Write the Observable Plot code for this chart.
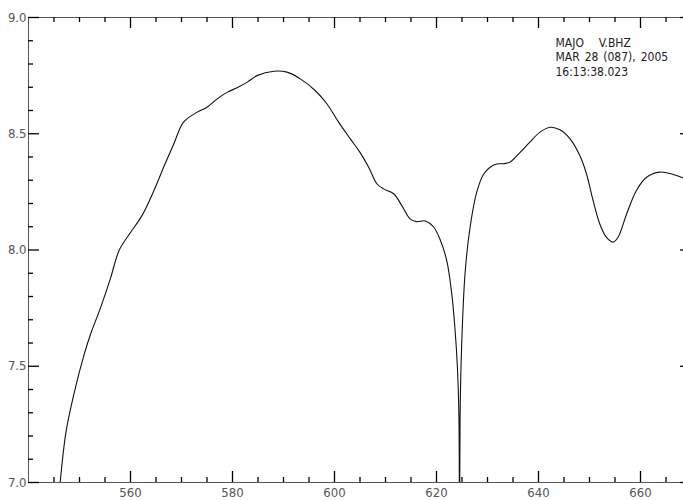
<!DOCTYPE html>
<html>
<head>
<meta charset="utf-8">
<script src="https://cdn.jsdelivr.net/npm/d3@7"></script>
<script src="https://cdn.jsdelivr.net/npm/@observablehq/plot@0.6"></script>
<style>
  html, body { margin: 0; padding: 0; background: #fff; }
  #chart { width: 683px; height: 500px; overflow: hidden; position: relative; background: #fff; }
  #chart svg { display: block; max-width: none !important; width: 691px !important; height: 500px !important;
    font-family: 'Liberation Sans Narrow', 'DejaVu Sans Condensed', 'Liberation Sans', sans-serif; font-size: 13px; }
  #chart svg g[aria-label$="tick label"] { fill: #555; }
  #chart svg g[aria-label="text"] text { word-spacing: 1.5px; }
</style>
</head>
<body>
<div id="chart"></div>
<script>
// ---- data ----
const periods = [545.6, 547.3, 548.9, 550.9, 552.2, 554.1, 556.1, 557.8, 560.0, 562.3,
  564.6, 566.5, 568.5, 570.4, 573.1, 575.0, 577.0, 579.0, 580.9, 582.9,
  584.8, 588.1, 590.7, 593.3, 596.2, 598.5, 600.8, 603.1, 605.0, 606.7,
  608.3, 609.6, 611.6, 613.2, 614.8, 616.1, 617.8, 619.4, 620.7, 622.0,
  623.0, 623.6, 624.1, 624.4, 624.5, 624.62, 624.9, 625.6, 626.6, 627.9,
  629.2, 630.5, 631.8, 633.1, 634.4, 636.4, 638.3, 640.3, 642.3, 644.2,
  646.2, 648.1, 649.4, 650.7, 652.0, 653.3, 654.6, 655.6, 657.3, 659.2,
  661.2, 663.8, 666.4, 668.4, 670.0];
const amplitudes = [6.85, 7.21, 7.38, 7.55, 7.64, 7.75, 7.88, 8.00, 8.075, 8.15,
  8.256, 8.356, 8.457, 8.55, 8.593, 8.614, 8.65, 8.679, 8.698, 8.722,
  8.75, 8.769, 8.765, 8.736, 8.686, 8.629, 8.55, 8.478, 8.42, 8.356,
  8.285, 8.263, 8.242, 8.191, 8.134, 8.122, 8.125, 8.100, 8.045, 7.955,
  7.81, 7.668, 7.496, 7.28, 6.5, 7.28, 7.568, 7.90, 8.10, 8.25,
  8.325, 8.356, 8.37, 8.371, 8.378, 8.42, 8.464, 8.507, 8.528, 8.517,
  8.478, 8.406, 8.328, 8.213, 8.113, 8.055, 8.034, 8.055, 8.156, 8.256,
  8.313, 8.335, 8.325, 8.31, 8.30];

const xMajorTicks = [560, 580, 600, 620, 640, 660];
const xMinorTicks = [545, 550, 555, 565, 570, 575, 585, 590, 595, 605, 610, 615,
  625, 630, 635, 645, 650, 655, 665];
const yMajorTicks = [7.0, 7.5, 8.0, 8.5, 9.0];
const yMinorTicks = [7.1, 7.2, 7.3, 7.4, 7.6, 7.7, 7.8, 7.9, 8.1, 8.2, 8.3, 8.4,
  8.6, 8.7, 8.8, 8.9];
const xDomain = [540, 670];
const yDomain = [7.0, 9.0];
const annotationLines = ["MAJO\u00a0\u00a0\u00a0V.BHZ", "MAR 28 (087), 2005", "16:13:38.023"];

const data = periods.map((p, i) => ({x: p, y: amplitudes[i]}));

// ---- layout ----
const W = 691, H = 500;
const mL = 28, mR = 0, mT = 17, mB = 18;
const plotW = W - mL - mR, plotH = H - mT - mB;
const majorLen = 11, minorLen = 5;
const axisColor = "#555";
const tickColor = "black";

const chart = Plot.plot({
  width: W,
  height: H,
  marginLeft: mL,
  marginRight: mR,
  marginTop: mT,
  marginBottom: mB,
  x: {domain: xDomain, ticks: xMajorTicks, tickSize: 0, tickPadding: 5, tickFormat: d => String(d), label: null},
  y: {domain: yDomain, ticks: yMajorTicks, tickSize: 0, tickPadding: 2, tickFormat: d => d.toFixed(1), label: null},
  marks: [
    Plot.frame({stroke: axisColor}),
    Plot.line(data, {x: "x", y: "y", curve: "catmull-rom", stroke: "#111", strokeWidth: 1.1, clip: true}),
    Plot.text([annotationLines.join("\n")], {
      frameAnchor: "top-left", dx: 527, dy: 19, text: d => d,
      textAnchor: "start", lineAnchor: "top", lineHeight: 1.2,
      fontSize: 12, fill: "#222"
    }),
    // bottom ticks
    Plot.ruleX(xMajorTicks, {x: d => d, stroke: tickColor, strokeWidth: 1.3, insetTop: plotH - majorLen}),
    Plot.ruleX(xMinorTicks, {x: d => d, stroke: tickColor, strokeWidth: 1.3, insetTop: plotH - minorLen}),
    // top ticks
    Plot.ruleX(xMajorTicks, {x: d => d, stroke: tickColor, strokeWidth: 1.3, insetBottom: plotH - majorLen}),
    Plot.ruleX(xMinorTicks, {x: d => d, stroke: tickColor, strokeWidth: 1.3, insetBottom: plotH - minorLen}),
    // left ticks
    Plot.ruleY(yMajorTicks, {y: d => d, stroke: tickColor, strokeWidth: 1.3, insetRight: plotW - majorLen}),
    Plot.ruleY(yMinorTicks, {y: d => d, stroke: tickColor, strokeWidth: 1.3, insetRight: plotW - minorLen}),
    // right ticks
    Plot.ruleY(yMajorTicks, {y: d => d, stroke: tickColor, strokeWidth: 1.3, insetLeft: plotW - majorLen}),
    Plot.ruleY(yMinorTicks, {y: d => d, stroke: tickColor, strokeWidth: 1.3, insetLeft: plotW - minorLen})
  ]
});
document.getElementById("chart").appendChild(chart);
</script>
</body>
</html>
